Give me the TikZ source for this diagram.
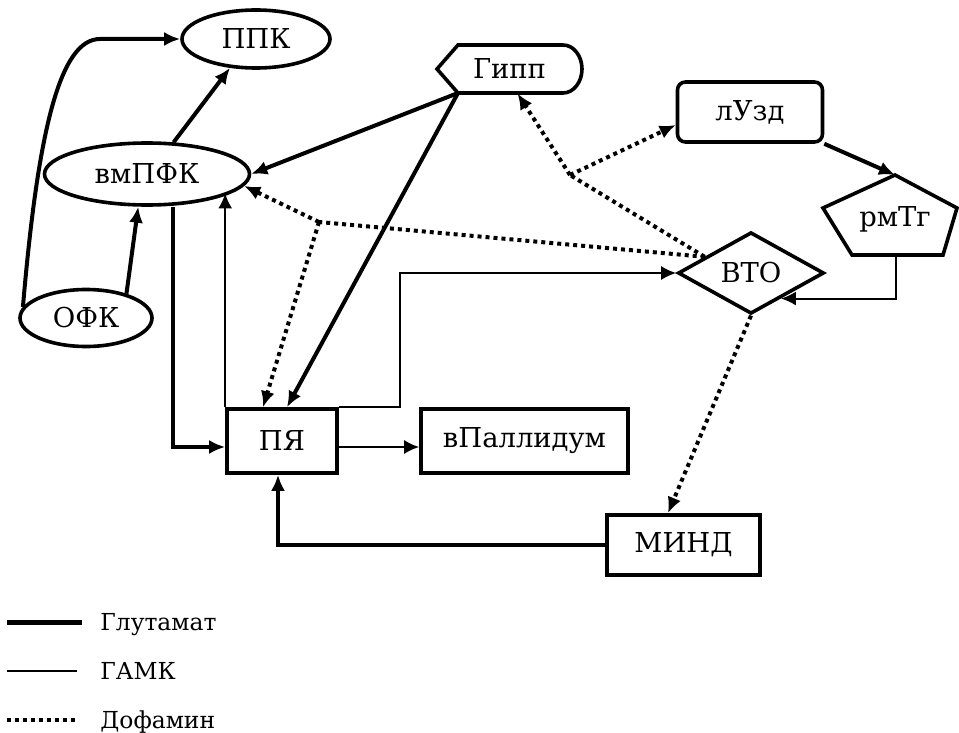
\documentclass[tikz,border=0pt]{standalone}
\usepackage{fontspec}
\setmainfont{DejaVu Serif}
\usetikzlibrary{arrows.meta,shapes.geometric,calc}
\begin{document}
\begin{tikzpicture}[x=0.5pt,y=0.5pt,
  every node/.style={font=\fontsize{13.7}{16}\selectfont},
  bord/.style={draw, line width=1.8pt, inner sep=0pt},
  ell/.style={bord, ellipse},
  box/.style={bord, rectangle},
  glu/.style={line width=2pt, -{Latex[length=8pt,width=7pt]}},
  gaba/.style={line width=1pt, -{Latex[length=7.5pt,width=7pt]}},
  dop/.style={line width=2pt, dash pattern=on 2pt off 2pt},
  dopa/.style={dop, -{Latex[length=8pt,width=7pt]}},
  legtext/.style={anchor=base west, inner sep=0pt, font=\fontsize{11.7}{14}\selectfont}
]
\useasboundingbox (0,0) rectangle (959,-733);

% nodes
\node[ell, minimum width=74pt, minimum height=29pt] (ppk) at (256,-39) {ППК};
\node[ell, minimum width=102.5pt, minimum height=31pt] (vmpfk) at (147,-174) {вмПФК};
\node[ell, minimum width=66pt, minimum height=28.5pt] (ofk) at (86,-318) {ОФК};
\node[box, rounded corners=4pt, minimum width=72.5pt, minimum height=30pt] (luzd) at (750,-112) {лУзд};
\node[box, minimum width=55pt, minimum height=32pt] (pya) at (282,-441) {ПЯ};
\node[box, minimum width=103.5pt, minimum height=32pt] (vpal) at (524.5,-441) {вПаллидум};
\node[box, minimum width=76.5pt, minimum height=30pt] (mind) at (683.5,-545) {МИНД};
\node[bord, diamond, minimum width=73pt, minimum height=39.5pt] (vto) at (751,-273) {ВТО};

% Gipp (display shape)
\draw[line width=1.8pt] (437,-69) -- (458,-45) -- (563,-45)
  arc[start angle=90, end angle=-90, x radius=9.5pt, y radius=12pt] -- (458,-93) -- cycle;
\node[minimum width=72.5pt, minimum height=24pt, inner sep=0pt] (gipp) at (509.5,-69) {Гипп};
\coordinate (gippbl) at (458,-93);

% rmTg (pentagon)
\draw[line width=1.8pt] (895,-175) coordinate (rmtop) -- (957,-208) -- (943,-255)
  -- (852,-255) -- (823,-208) -- cycle;
\coordinate (rmbot) at (896,-255);
\node (rmtg) at (895,-219) {рмТг};

% helper coordinates
\coordinate (vtop) at ($(vto.west)!0.38!(vto.north)$);
\coordinate (vtobr) at ($(vto.south)!0.4!(vto.east)$);
\coordinate (j1) at (319,-222);
\coordinate (j2) at (570,-175);

% glutamate
\draw[glu] (ofk.170) .. controls (38,-130) and (60,-39) .. (100,-39) -- (ppk.west);
\draw[glu] (vmpfk.50) -- (ppk.228);
\draw[glu] (ofk.31) -- (vmpfk.255);
\draw[glu] ([xshift=13pt]vmpfk.south) |- ([yshift=-3pt]pya.west);
\draw[glu] (gippbl) -- (vmpfk.east);
\draw[glu] (gippbl) -- ([xshift=2.5pt]pya.north);
\draw[glu] (luzd.south east) -- (rmtop);
\draw[glu] (mind.west) -| ([xshift=-2pt]pya.south);

% GABA
\draw[gaba] (pya.north west) -- (pya.north west |- vmpfk.-13);
\draw[gaba] (rmbot) |- (vtobr);
\draw[gaba] (pya.north east) -- ++(61,0) |- (vto.west);
\draw[gaba] ([yshift=-3pt]pya.east) -- ([yshift=-3pt]vpal.west);

% dopamine
\draw[dop] (vtop) -- (j1);
\draw[dopa] (j1) -- (vmpfk.-7);
\draw[dopa] (j1) -- ([xshift=-9.5pt]pya.north);
\draw[dop] (vtop) -- (j2);
\draw[dopa] (j2) -- ([xshift=4pt]gipp.south);
\draw[dopa] (j2) -- ([yshift=-6.5pt]luzd.west);
\draw[dopa] (vto.south) -- ([xshift=-7.75pt]mind.north);

% legend
\draw[line width=2.5pt] (7,-622) -- (82,-622);
\draw[line width=1.2pt] (7,-671) -- (77,-671);
\draw[line width=2pt, dash pattern=on 2pt off 2pt] (7,-720) -- (75,-720);
\node[legtext] (l1) at (100,-630) {Глутамат};
\node[legtext] (l2) at (100,-679) {ГАМК};
\node[legtext] (l3) at (100,-728) {Дофамин};
\end{tikzpicture}
\end{document}
